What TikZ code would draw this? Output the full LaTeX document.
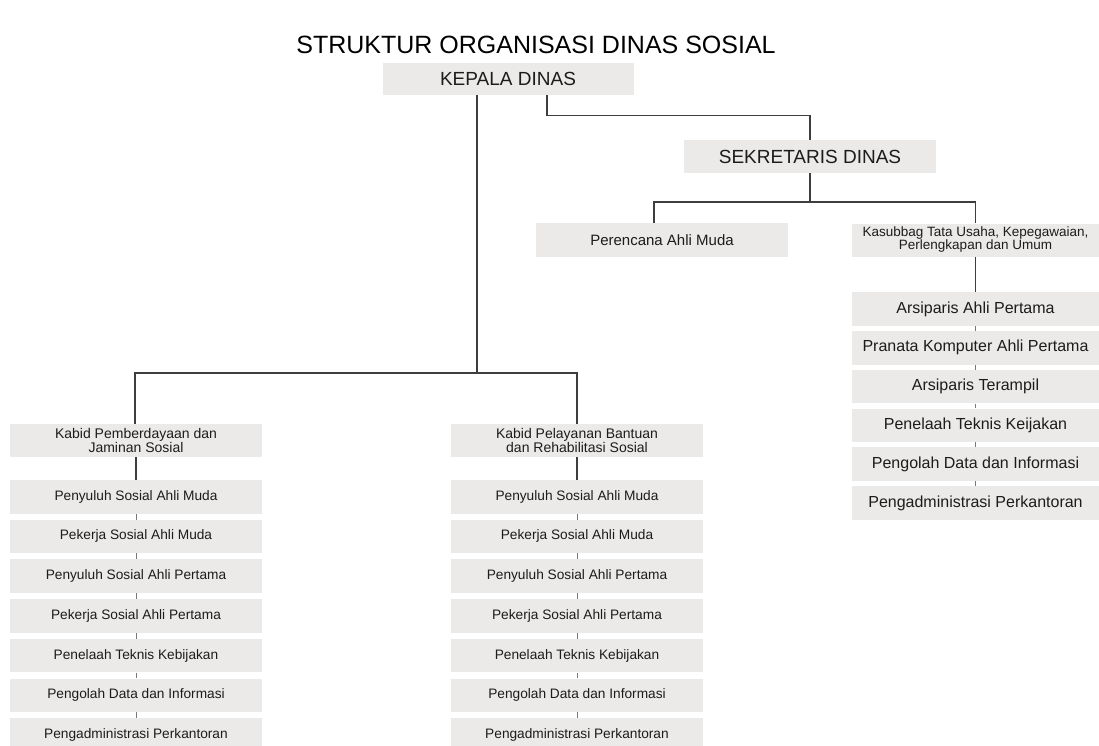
\documentclass[tikz,border=0pt]{standalone}
\usepackage{fontspec}
\setmainfont{Liberation Sans}
\usetikzlibrary{positioning}
\definecolor{boxgray}{RGB}{235,234,233}
\definecolor{linegray}{RGB}{62,62,62}
\definecolor{textgray}{RGB}{28,28,28}

\begin{document}
\begin{tikzpicture}[x=1pt, y=-1pt,
    unit/.style={rectangle, fill=boxgray, text=textgray, inner sep=0pt, align=center, minimum width=252pt, minimum height=33.5pt},
    link/.style={draw=linegray, line width=1.3pt},
    tick/.style={draw=linegray!70, line width=1pt}]
        \def\colgap{5.8pt}
        \def\rcolgap{4.9pt}
        \def\itemfont{\fontsize{13.7}{13}\selectfont}
        \def\rightfont{\fontsize{16}{16}\selectfont}
        \def\kabidfont{\fontsize{14}{12.5}\selectfont}

        \useasboundingbox (0,0) rectangle (1099,746);
        \node[text=black, font=\fontsize{25}{25}\selectfont] (title) at (536,45) {STRUKTUR ORGANISASI DINAS SOSIAL};

        % pimpinan
        \node[unit, minimum width=251pt, minimum height=32pt, font=\fontsize{19}{19}\selectfont] (kepala) at (508,79) {KEPALA DINAS};
        \node[unit, minimum height=33pt, font=\fontsize{19}{19}\selectfont] (sekretaris) at (810,156.5) {SEKRETARIS DINAS};
        \node[unit, minimum height=34pt, font=\fontsize{15}{15}\selectfont] (perencana) at (662,240) {Perencana Ahli Muda};
        \node[unit, minimum width=247pt, minimum height=33pt, font=\fontsize{13.5}{13}\selectfont] (kasubbag) at (975.5,240) {Kasubbag Tata Usaha, Kepegawaian,\\Perlengkapan dan Umum};

        % sekretariat
        \node[unit, minimum width=247pt, font=\rightfont] (umum1) at (975.5,309) {Arsiparis Ahli Pertama};
        \node[unit, minimum width=247pt, font=\rightfont, below = \rcolgap of umum1] (umum2) {Pranata Komputer Ahli Pertama};
        \node[unit, minimum width=247pt, font=\rightfont, below = \rcolgap of umum2] (umum3) {Arsiparis Terampil};
        \node[unit, minimum width=247pt, font=\rightfont, below = \rcolgap of umum3] (umum4) {Penelaah Teknis Keijakan};
        \node[unit, minimum width=247pt, font=\rightfont, below = \rcolgap of umum4] (umum5) {Pengolah Data dan Informasi};
        \node[unit, minimum width=247pt, font=\rightfont, below = \rcolgap of umum5] (umum6) {Pengadministrasi Perkantoran};

        % bidang pemberdayaan
        \node[unit, font=\kabidfont] (pembhead) at (136,440.5) {Kabid Pemberdayaan dan\\Jaminan Sosial};
        \node[unit, font=\itemfont] (pemb1) at (136,496.75) {Penyuluh Sosial Ahli Muda};
        \node[unit, font=\itemfont, below = \colgap of pemb1] (pemb2) {Pekerja Sosial Ahli Muda};
        \node[unit, font=\itemfont, below = \colgap of pemb2] (pemb3) {Penyuluh Sosial Ahli Pertama};
        \node[unit, font=\itemfont, below = \colgap of pemb3] (pemb4) {Pekerja Sosial Ahli Pertama};
        \node[unit, font=\itemfont, below = \colgap of pemb4] (pemb5) {Penelaah Teknis Kebijakan};
        \node[unit, font=\itemfont, below = \colgap of pemb5] (pemb6) {Pengolah Data dan Informasi};
        \node[unit, font=\itemfont, below = \colgap of pemb6] (pemb7) {Pengadministrasi Perkantoran};

        % bidang pelayanan
        \node[unit, font=\kabidfont] (yanhead) at (577,440.5) {Kabid Pelayanan Bantuan\\dan Rehabilitasi Sosial};
        \node[unit, font=\itemfont] (yan1) at (577,496.75) {Penyuluh Sosial Ahli Muda};
        \node[unit, font=\itemfont, below = \colgap of yan1] (yan2) {Pekerja Sosial Ahli Muda};
        \node[unit, font=\itemfont, below = \colgap of yan2] (yan3) {Penyuluh Sosial Ahli Pertama};
        \node[unit, font=\itemfont, below = \colgap of yan3] (yan4) {Pekerja Sosial Ahli Pertama};
        \node[unit, font=\itemfont, below = \colgap of yan4] (yan5) {Penelaah Teknis Kebijakan};
        \node[unit, font=\itemfont, below = \colgap of yan5] (yan6) {Pengolah Data dan Informasi};
        \node[unit, font=\itemfont, below = \colgap of yan6] (yan7) {Pengadministrasi Perkantoran};

        % garis
        \coordinate (bidrail) at (0,373);
        \coordinate (sekrail) at (0,202);
        \draw[link] ([xshift=-31pt]kepala.south) -- ([xshift=-31pt]kepala.south |- bidrail);
        \draw[link] ([xshift=-1pt]pembhead.north) |- (bidrail -| yanhead.north) -- (yanhead.north);
        \draw[link] ([xshift=39pt]kepala.south) -- ++(0,20) -| (sekretaris.north);
        \draw[link] (sekretaris.south) -- (sekretaris.south |- sekrail);
        \draw[link] ([xshift=-8pt]perencana.north) |- (sekrail -| kasubbag.north) -- (kasubbag.north);
        \draw[link] (kasubbag.south) -- (umum1.north);
        \draw[link] (pembhead.south) -- (pemb1.north);
        \draw[link] (yanhead.south) -- (yan1.north);

        \foreach \i [count=\j from 2] in {1,...,6} {
            \draw[tick] (pemb\i.south) -- (pemb\j.north);
            \draw[tick] (yan\i.south) -- (yan\j.north);
        }
        \foreach \i [count=\j from 2] in {1,...,5}
            \draw[tick] (umum\i.south) -- (umum\j.north);
    \end{tikzpicture}
\end{document}
